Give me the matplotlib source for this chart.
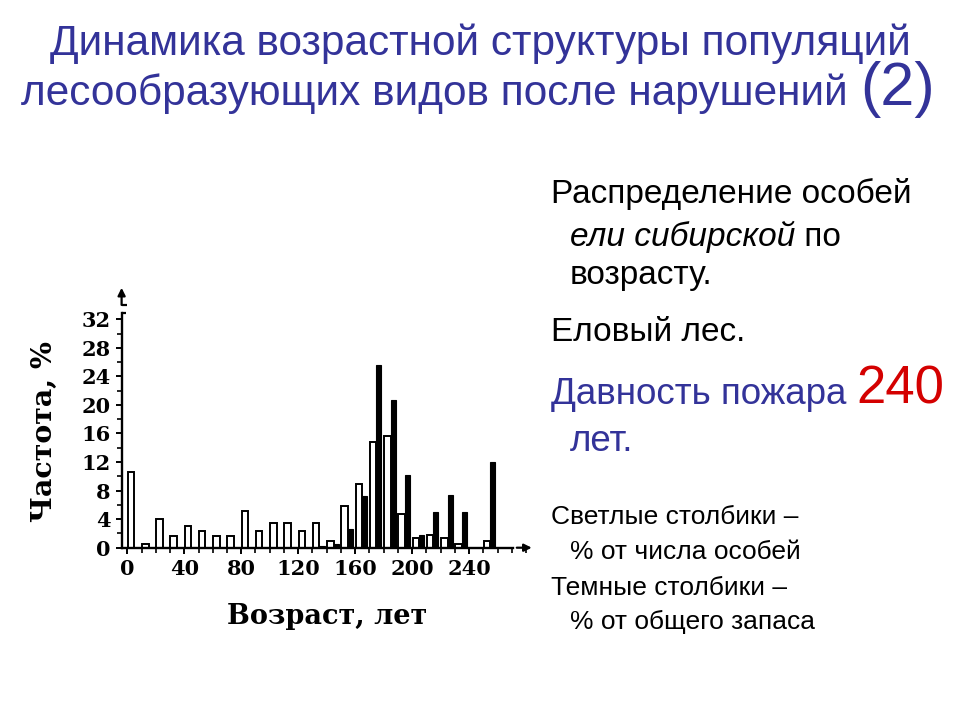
import matplotlib
matplotlib.use('Agg')
import matplotlib.pyplot as plt

# ---- data ----
age_classes = [0, 10, 20, 30, 40, 50, 60, 70, 80, 90, 100, 110, 120,
               130, 140, 150, 160, 170, 180, 190, 200, 210, 220, 230, 240, 250]
pct_individuals = [10.6, 0.5, 4.0, 1.7, 3.0, 2.3, 1.7, 1.7, 5.1, 2.3, 3.4, 3.4, 2.3,
                   3.4, 1.0, 5.9, 8.9, 14.8, 15.6, 4.7, 1.3, 1.8, 1.3, 0.5, 0.0, 1.0]
pct_stock = [0.0, 0.0, 0.0, 0.0, 0.0, 0.0, 0.0, 0.0, 0.0, 0.0, 0.0, 0.0, 0.0,
             0.3, 0.5, 2.6, 7.2, 25.6, 20.7, 10.2, 1.8, 5.0, 7.4, 5.0, 0.0, 12.0]
x_ticks = [0, 40, 80, 120, 160, 200, 240]
x_tick_labels = ['0', '40', '80', '120', '160', '200', '240']
y_ticks = [0, 4, 8, 12, 16, 20, 24, 28, 32]
y_tick_labels = ['0', '4', '8', '12', '16', '20', '24', '28', '32']

NAVY = '#333399'
RED = '#d40000'
SANS = 'Liberation Sans'
SERIF = 'DejaVu Serif'

W, H = 960, 720
fig = plt.figure(figsize=(9.6, 7.2), dpi=100)
fig.patch.set_facecolor('white')

xmin, xmax = -4, 285
ymin, ymax = 0, 36.4
px_per_year = 1.424
px_per_unit = 7.14
left_px = 127.3 + xmin * px_per_year
bottom_px = 547.7
ax = fig.add_axes([left_px / W, (H - bottom_px) / H,
                   (xmax - xmin) * px_per_year / W, (ymax - ymin) * px_per_unit / H])
ax.set_xlim(xmin, xmax)
ax.set_ylim(ymin, ymax)
ax.set_facecolor('none')

ax.bar([a + 0.3 for a in age_classes], pct_individuals, width=4.6, align='edge',
       facecolor='white', edgecolor='black', linewidth=1.4, zorder=2)
ax.bar([a + 4.9 for a in age_classes], pct_stock, width=3.6, align='edge',
       facecolor='black', edgecolor='black', linewidth=0.8, zorder=3)

for s in ['top', 'right']:
    ax.spines[s].set_visible(False)
ax.spines['left'].set_linewidth(1.7)
ax.spines['bottom'].set_linewidth(1.7)
ax.spines['left'].set_bounds(0, 32.9)
ax.spines['bottom'].set_bounds(xmin, 271)
ax.spines['left'].set_zorder(5)
ax.spines['bottom'].set_zorder(5)

# axis breaks and arrows
ax.plot([xmin, xmin + 2.8], [32.9, 32.9], color='black', lw=1.6, clip_on=False, solid_capstyle='butt')
ax.plot([xmin, xmin + 3.5], [34.0, 34.0], color='black', lw=1.6, clip_on=False, solid_capstyle='butt')
ax.annotate('', xy=(xmin, ymax), xytext=(xmin, 34.0),
            arrowprops=dict(arrowstyle='-|>', lw=1.6, color='black', mutation_scale=11,
                            shrinkA=0, shrinkB=0), annotation_clip=False)
ax.annotate('', xy=(xmax - 1, 0), xytext=(273.5, 0),
            arrowprops=dict(arrowstyle='-|>', lw=1.6, color='black', mutation_scale=11,
                            shrinkA=0, shrinkB=0), annotation_clip=False)

ax.set_xticks(x_ticks)
ax.set_xticklabels(x_tick_labels)
ax.set_xticks(list(range(0, 290, 10)), minor=True)
ax.set_yticks(y_ticks)
ax.set_yticklabels(y_tick_labels)
ax.set_yticks(list(range(0, 34, 2)), minor=True)
ax.tick_params(axis='both', which='major', direction='out', length=4, width=1.4,
               labelsize=15, pad=4)
ax.tick_params(axis='both', which='minor', direction='out', length=3.5, width=1.2)
for lab in ax.get_xticklabels() + ax.get_yticklabels():
    lab.set_fontfamily(SERIF)
    lab.set_fontweight('bold')

fig.text(44 / W, 1 - 432 / H, 'Частота, %', rotation=90, ha='center', va='center',
         fontsize=20.5, fontfamily=SERIF, fontweight='bold')
fig.text(327 / W, 1 - 624 / H, 'Возраст, лет', ha='center', va='baseline',
         fontsize=19.5, fontfamily=SERIF, fontweight='bold')

# ---- title ----
fig.text(480 / W, 1 - 55 / H, 'Динамика возрастной структуры популяций',
         ha='center', va='baseline', fontsize=30.5, color=NAVY, fontfamily=SANS)
fig.canvas.draw()
renderer = fig.canvas.get_renderer()


def chain(parts, x_px, y_px):
    x = x_px
    for txt, kw in parts:
        t = fig.text(x / W, 1 - y_px / H, txt, ha='left', va='baseline',
                     fontfamily=SANS, **kw)
        bb = t.get_window_extent(renderer=renderer)
        x = bb.x1
    return x


# second title line centred
tmp = [('лесообразующих видов после нарушений ', dict(fontsize=30.5, color=NAVY)),
       ('(2)', dict(fontsize=44, color=NAVY))]
widths = []
for txt, kw in tmp:
    t = fig.text(0, 0, txt, fontfamily=SANS, **kw)
    widths.append(t.get_window_extent(renderer=renderer).width)
    t.remove()
chain(tmp, 478 - sum(widths) / 2, 105)

# ---- right side text ----
chain([('Распределение особей', dict(fontsize=24, color='black'))], 551, 203)
chain([('ели сибирской', dict(fontsize=24, color='black', style='italic')),
       (' по', dict(fontsize=24, color='black'))], 570, 246)
chain([('возрасту.', dict(fontsize=24, color='black'))], 570, 284)
chain([('Еловый лес.', dict(fontsize=24, color='black'))], 551, 341)
chain([('Давность пожара ', dict(fontsize=26.5, color=NAVY)),
       ('240', dict(fontsize=38, color=RED))], 551, 404)
chain([('лет.', dict(fontsize=26.5, color=NAVY))], 570, 451)
chain([('Светлые столбики –', dict(fontsize=19, color='black'))], 551, 524)
chain([('% от числа особей', dict(fontsize=19, color='black'))], 570, 559)
chain([('Темные столбики –', dict(fontsize=19, color='black'))], 551, 595)
chain([('% от общего запаса', dict(fontsize=19, color='black'))], 570, 629)

fig.savefig('out.png', dpi=100)
